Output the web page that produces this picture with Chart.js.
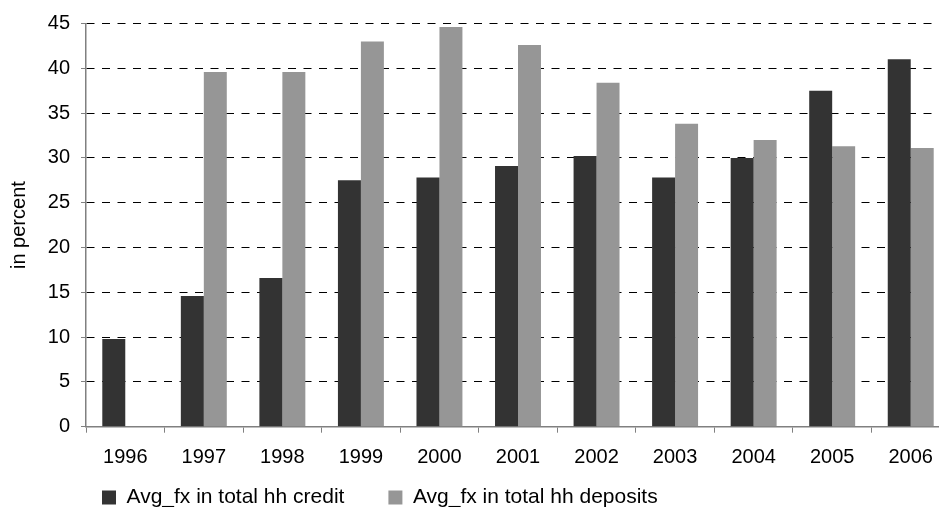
<!DOCTYPE html>
<html>
<head>
<meta charset="utf-8">
<script src="https://cdn.jsdelivr.net/npm/chart.js@4"></script>
<style>
  html, body { margin: 0; padding: 0; background: #fff; overflow: hidden; }
  #wrap { width: 950px; height: 507px; }
</style>
</head>
<body>
<div id="wrap"><canvas id="c" width="950" height="507"></canvas></div>
<script>
// Foreign-currency share of household credit and deposits, yearly averages
const years = ['1996', '1997', '1998', '1999', '2000', '2001', '2002', '2003', '2004', '2005', '2006'];
const creditShare = [9.8, 14.6, 16.6, 27.5, 27.8, 29.1, 30.2, 27.8, 30.0, 37.5, 41.0];
const depositShare = [null, 39.6, 39.6, 43.0, 44.6, 42.6, 38.4, 33.8, 32.0, 31.3, 31.1];
const seriesNames = ['Avg_fx in total hh credit', 'Avg_fx in total hh deposits'];
const yTicks = [0, 5, 10, 15, 20, 25, 30, 35, 40, 45];

const FONT = 'Liberation Sans, Arial, Helvetica, sans-serif';
const AXIS_GREY = '#808080';

// Puts the legend row under the axis labels, starting near the left of the plot
const legendPlacement = {
  id: 'legendPlacement',
  afterLayout(chart) {
    const lg = chart.legend;
    if (!lg) return;
    const pad = lg.options.labels.padding;
    const itemH = lg.options.labels.font.size;
    const dx = 102 - (lg.left + pad);
    const dy = 497.5 - (lg.top + pad + itemH / 2);
    lg.left += dx; lg.right += dx;
    lg.top += dy; lg.bottom += dy;
  }
};

new Chart(document.getElementById('c'), {
  type: 'bar',
  data: {
    labels: years,
    datasets: [
      { label: seriesNames[0], data: creditShare, backgroundColor: '#333333', borderWidth: 0 },
      { label: seriesNames[1], data: depositShare, backgroundColor: '#969696', borderWidth: 0 }
    ]
  },
  options: {
    responsive: false,
    animation: false,
    devicePixelRatio: 1,
    layout: { padding: { top: 23.5, left: 0, right: 0, bottom: -37.7 } },
    datasets: { bar: { categoryPercentage: 0.585, barPercentage: 1.0 } },
    plugins: {
      tooltip: { enabled: false },
      legend: {
        position: 'bottom',
        align: 'start',
        labels: {
          boxWidth: 14,
          boxHeight: 14,
          padding: 44,
          color: '#000',
          font: { family: FONT, size: 21 }
        }
      }
    },
    scales: {
      x: {
        afterFit(scale) { scale.height = 43; },
        grid: {
          display: true,
          drawOnChartArea: false,
          drawTicks: true,
          tickLength: 6,
          color: AXIS_GREY,
          offset: true
        },
        border: { display: true, color: AXIS_GREY, width: 1.5 },
        ticks: {
          color: '#000',
          padding: 13,
          maxRotation: 0,
          autoSkip: false,
          font: { family: FONT, size: 20 }
        }
      },
      y: {
        min: 0,
        max: 45,
        afterFit(scale) { scale.width = 86; },
        afterBuildTicks(scale) { scale.ticks = yTicks.map(v => ({ value: v })); },
        grid: {
          color: ctx => (ctx.tick && ctx.tick.value === 0) ? 'rgba(0,0,0,0)' : '#000',
          lineWidth: 1,
          drawTicks: true,
          tickLength: 5,
          tickColor: AXIS_GREY
        },
        border: { display: true, color: AXIS_GREY, width: 1.5, dash: [8, 7.5] },
        ticks: {
          color: '#000',
          padding: 11,
          font: { family: FONT, size: 20 }
        },
        title: {
          display: true,
          text: 'in percent',
          color: '#000',
          padding: { top: 7, bottom: 0 },
          font: { family: FONT, size: 20 }
        }
      }
    }
  },
  plugins: [legendPlacement]
});
</script>
</body>
</html>
